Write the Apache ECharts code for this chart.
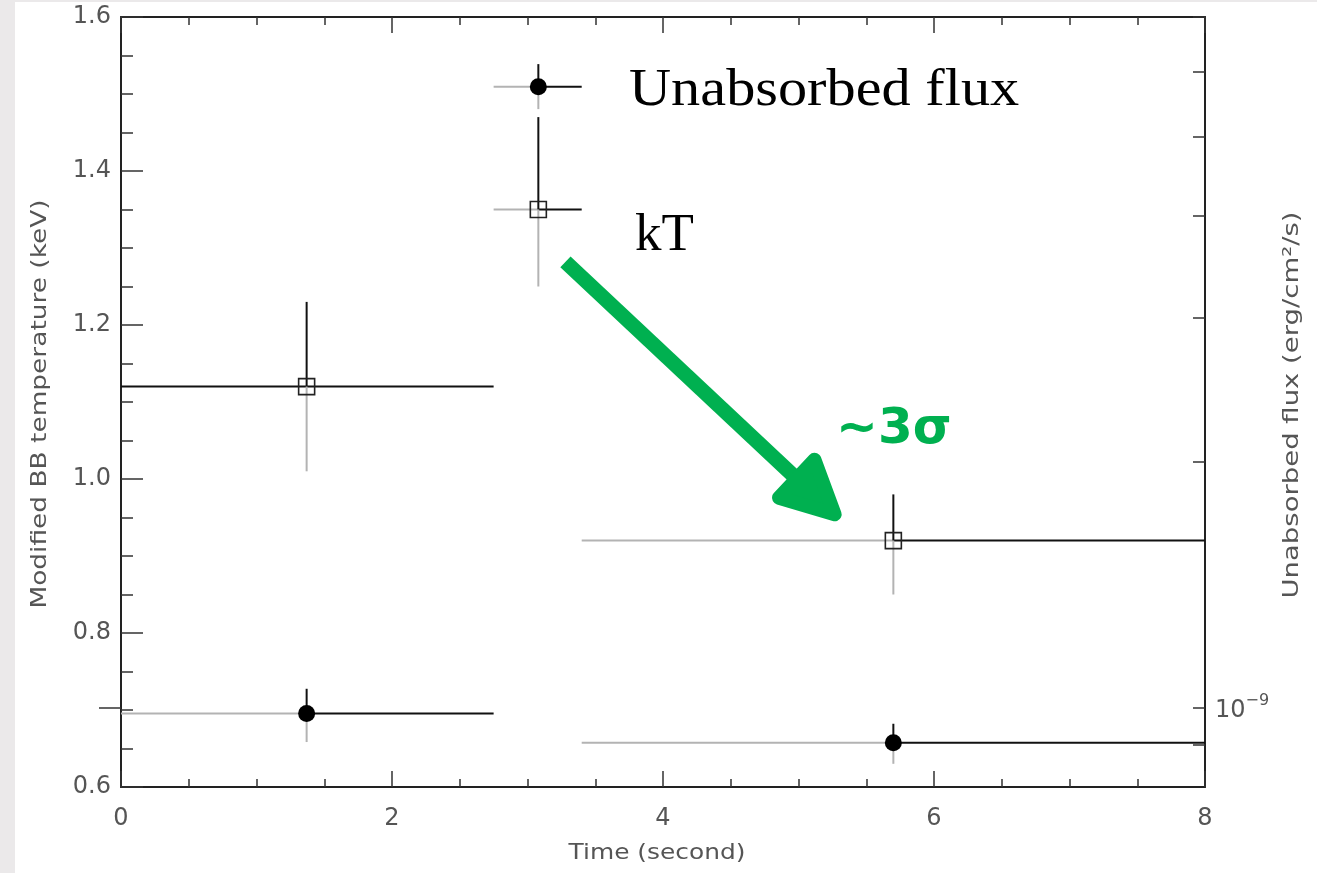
<!DOCTYPE html>
<html><head><meta charset="utf-8">
<script src="https://cdn.jsdelivr.net/npm/echarts@6/dist/echarts.min.js"></script>
<style>
html,body{margin:0;padding:0;background:#fff;}
#strip{position:absolute;left:0;top:0;width:15px;height:873px;background:#ebe9ea;}
#topstrip{position:absolute;left:0;top:0;width:1317px;height:2px;background:#ebe9ea;}
#chart{position:absolute;left:0;top:0;width:1317px;height:873px;}
</style></head><body>
<div id="strip"></div><div id="topstrip"></div>
<div id="chart"></div>
<script>
// ---- data (time bins in seconds) ----
const binStart   = [0, 2.75, 3.40];
const binEnd     = [2.75, 3.40, 8.0];
const timeCenter = [1.37, 3.08, 5.70];
// modified BB temperature kT (keV)
const kT     = [1.12, 1.35, 0.92];
const kTLow  = [1.01, 1.25, 0.85];
const kTHigh = [1.23, 1.47, 0.98];
// unabsorbed flux (erg/cm^2/s)
const flux     = [0.984e-9, 5.75e-9, 0.906e-9];
const fluxLow  = [0.908e-9, 5.40e-9, 0.854e-9];
const fluxHigh = [1.055e-9, 6.13e-9, 0.956e-9];
// axis ticks
const xTicks = [0, 2, 4, 6, 8];
const kTTicks = [0.6, 0.8, 1.0, 1.2, 1.4, 1.6];
const fluxTickValues = [9e-10, 1e-9, 2e-9, 3e-9, 4e-9, 5e-9, 6e-9, 7e-9];
const fluxLabelValues = [1e-9];
// annotation arrow (time, kT) from -> to
const arrowFrom = [3.28, 1.282];
const arrowTo   = [5.31, 0.947];

const GRAY = '#b3b3b3', BLACK = '#111', GREEN = '#00b050', TXT = '#555';
const FONT = 'DejaVu Sans';

function makeRender(kind) {
  return function (params, api) {
    const x = api.value(0), y = api.value(1), lo = api.value(2), hi = api.value(3);
    const x0 = api.value(4), x1 = api.value(5);
    const c = api.coord([x, y]);
    const pL = api.coord([x0, y]), pR = api.coord([x1, y]);
    const pHi = api.coord([x, hi]), pLo = api.coord([x, lo]);
    const leftDark = (kind === 'kT' && params.dataIndex === 0);
    const ln = (a, b, col) => ({type: 'line', shape: {x1: a[0], y1: a[1], x2: b[0], y2: b[1]},
      style: {stroke: col, lineWidth: 2}});
    const children = [
      ln(pL, c, leftDark ? BLACK : GRAY),
      ln(c, pR, BLACK),
      ln(c, pHi, BLACK),
      ln(c, pLo, GRAY)
    ];
    if (kind === 'flux') {
      children.push({type: 'circle', shape: {cx: c[0], cy: c[1], r: 8.5}, style: {fill: '#000'}});
    } else {
      children.push({type: 'rect', shape: {x: c[0] - 8, y: c[1] - 8, width: 16, height: 16},
        style: {fill: 'none', stroke: '#222', lineWidth: 1.6}});
    }
    return {type: 'group', children};
  };
}

function renderArrow(params, api) {
  const p0 = api.coord([api.value(0), api.value(1)]);
  const p1 = api.coord([api.value(2), api.value(3)]);
  const dx = p1[0] - p0[0], dy = p1[1] - p0[1];
  const L = Math.sqrt(dx * dx + dy * dy);
  const u = [dx / L, dy / L], n = [-u[1], u[0]];
  const at = (a, b) => [p1[0] + u[0] * a + n[0] * b, p1[1] + u[1] * a + n[1] * b];
  return {type: 'group', children: [
    {type: 'polyline', shape: {points: [p0, at(-50, 0)]},
      style: {stroke: GREEN, lineWidth: 15, lineCap: 'butt', fill: null}},
    {type: 'polygon', shape: {points: [at(-8, 0), at(-60, 26), at(-60, -26)]},
      style: {fill: GREEN, stroke: GREEN, lineWidth: 14, lineJoin: 'round'}}
  ]};
}

const kTData = timeCenter.map((t, i) => [t, kT[i], kTLow[i], kTHigh[i], binStart[i], binEnd[i]]);
const fluxData = timeCenter.map((t, i) => [t, flux[i], fluxLow[i], fluxHigh[i], binStart[i], binEnd[i]]);

const tickStyle = {color: '#333', width: 1.5};
const axisLineStyle = {color: '#222', width: 2};

const chart = echarts.init(document.getElementById('chart'), null, {renderer: 'canvas'});
const option = {
  animation: false,
  grid: {left: 121, right: 112, top: 17, bottom: 86, containLabel: false},
  xAxis: [
    {type: 'value', min: xTicks[0], max: xTicks[xTicks.length - 1], interval: xTicks[1] - xTicks[0], position: 'bottom',
      axisLine: {show: true, onZero: false, lineStyle: axisLineStyle},
      axisTick: {show: true, inside: true, length: 16, lineStyle: tickStyle},
      minorTick: {show: true, splitNumber: 4, length: 8, lineStyle: tickStyle},
      axisLabel: {margin: 20, color: TXT, fontSize: 24, fontFamily: FONT, formatter: v => String(v)},
      splitLine: {show: false}, minorSplitLine: {show: false}},
    {type: 'value', min: xTicks[0], max: xTicks[xTicks.length - 1], interval: xTicks[1] - xTicks[0], position: 'top',
      axisLine: {show: true, onZero: false, lineStyle: axisLineStyle},
      axisTick: {show: true, inside: true, length: 16, lineStyle: tickStyle},
      minorTick: {show: true, splitNumber: 4, length: 8, lineStyle: tickStyle},
      axisLabel: {show: false}, splitLine: {show: false}}
  ],
  yAxis: [
    {type: 'value', min: kTTicks[0], max: kTTicks[kTTicks.length - 1], interval: 0.2, position: 'left',
      axisLine: {show: true, onZero: false, lineStyle: axisLineStyle},
      axisTick: {show: true, inside: true, length: 22, lineStyle: tickStyle},
      minorTick: {show: true, splitNumber: 4, length: 12, lineStyle: tickStyle},
      axisLabel: {margin: 10, color: TXT, fontSize: 24, fontFamily: FONT, formatter: v => v.toFixed(1)},
      splitLine: {show: false}, minorSplitLine: {show: false}},
    {type: 'log', logBase: 10, min: 8e-10, max: 7e-9, position: 'right',
      axisLine: {show: true, onZero: false, lineStyle: axisLineStyle},
      axisTick: {show: true, inside: true, length: 12, lineStyle: tickStyle, customValues: fluxTickValues},
      axisLabel: {show: true, margin: 10, customValues: fluxLabelValues, fontSize: 24, fontFamily: FONT, color: TXT,
        formatter: () => '{base|10}{sup|\u22129}',
        rich: {base: {fontSize: 24, fontFamily: FONT, color: TXT, lineHeight: 30, verticalAlign: 'bottom'},
               sup: {fontSize: 16, fontFamily: FONT, color: TXT, verticalAlign: 'top', lineHeight: 16}}},
      splitLine: {show: false}},
    {type: 'log', logBase: 10, min: 8e-10, max: 7e-9, position: 'right',
      axisLine: {show: false},
      axisTick: {show: true, inside: true, length: 22, lineStyle: tickStyle, customValues: fluxLabelValues},
      axisLabel: {show: false}, splitLine: {show: false}}
  ],
  series: [
    {type: 'custom', name: 'Unabsorbed flux', coordinateSystem: 'cartesian2d', xAxisIndex: 0, yAxisIndex: 1,
      encode: {x: 0, y: 1}, data: fluxData, renderItem: makeRender('flux'), z: 5},
    {type: 'custom', name: 'kT', coordinateSystem: 'cartesian2d', xAxisIndex: 0, yAxisIndex: 0,
      encode: {x: 0, y: 1}, data: kTData, renderItem: makeRender('kT'), z: 5},
    {type: 'custom', name: 'arrow', coordinateSystem: 'cartesian2d', xAxisIndex: 0, yAxisIndex: 0,
      encode: {x: [0, 2], y: [1, 3]}, data: [[arrowFrom[0], arrowFrom[1], arrowTo[0], arrowTo[1]]],
      renderItem: renderArrow, z: 6, silent: true}
  ],
  graphic: [
    {type: 'text', x: 40, y: 404, rotation: Math.PI / 2, scaleX: 1.2,
      style: {text: 'Modified BB temperature (keV)', x: 0, y: 0, fill: TXT, font: '22px "DejaVu Sans"',
        textAlign: 'center', textVerticalAlign: 'middle'}},
    {type: 'text', x: 657, y: 853, scaleX: 1.13,
      style: {text: 'Time (second)', x: 0, y: 0, fill: TXT, font: '22px "DejaVu Sans"',
        textAlign: 'center', textVerticalAlign: 'middle'}},
    {type: 'text', x: 1292, y: 405, rotation: Math.PI / 2, scaleX: 1.25,
      style: {text: 'Unabsorbed flux (erg/cm\u00b2/s)', x: 0, y: 0, fill: TXT, font: '22px "DejaVu Sans"',
        textAlign: 'center', textVerticalAlign: 'middle'}},
    {type: 'text', x: 629, y: 91, scaleX: 1.1,
      style: {text: 'Unabsorbed flux', x: 0, y: 0, fill: '#000', font: '53px "Liberation Serif"',
        textAlign: 'left', textVerticalAlign: 'middle'}},
    {type: 'text', x: 635, y: 236,
      style: {text: 'kT', x: 0, y: 0, fill: '#000', font: '53px "Liberation Serif"',
        textAlign: 'left', textVerticalAlign: 'middle'}},
    {type: 'text', x: 836, y: 430,
      style: {text: '~3\u03c3', x: 0, y: 0, fill: GREEN, font: 'bold 50px "DejaVu Sans"',
        textAlign: 'left', textVerticalAlign: 'middle'}}
  ]
};
chart.setOption(option);
</script>
</body></html>
